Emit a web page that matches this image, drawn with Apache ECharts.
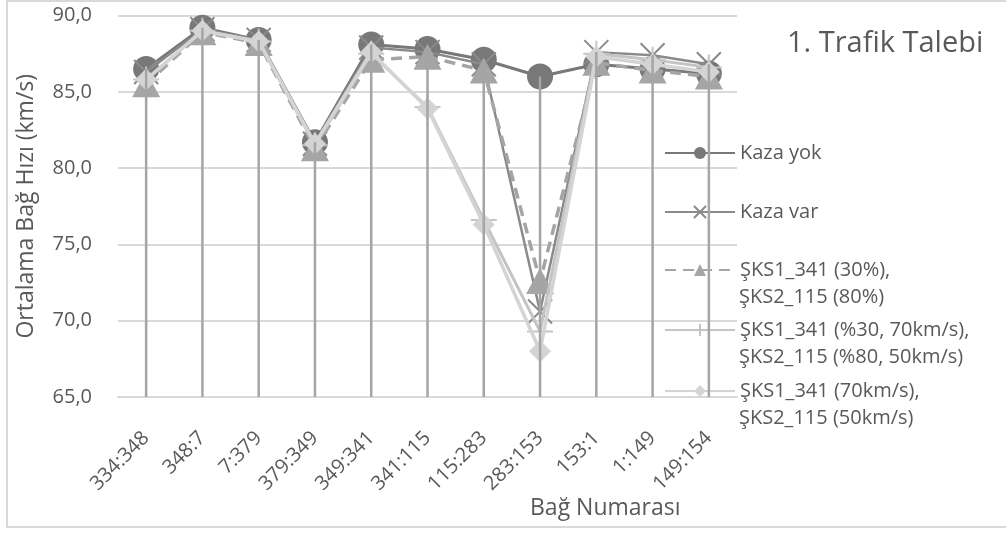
<!DOCTYPE html>
<html>
<head>
<meta charset="utf-8">
<script src="https://cdn.jsdelivr.net/npm/echarts@6/dist/echarts.min.js"></script>
<style>html,body{margin:0;padding:0;background:#fff;}#c{width:1006px;height:534px;}</style>
</head>
<body>
<div id="c"></div>
<script>
const categories = ['334:348','348:7','7:379','379:349','349:341','341:115','115:283','283:153','153:1','1:149','149:154'];
const yTicks = [65, 70, 75, 80, 85, 90];
const nameKazaYok = 'Kaza yok';
const nameKazaVar = 'Kaza var';
const nameSks1 = 'ŞKS1_341 (30%),\nŞKS2_115 (80%)';
const nameSks2 = 'ŞKS1_341 (%30, 70km/s),\nŞKS2_115 (%80, 50km/s)';
const nameSks3 = 'ŞKS1_341 (70km/s),\nŞKS2_115 (50km/s)';
const kazaYok = [86.5, 89.2, 88.4, 81.7, 88.1, 87.8, 87.1, 86.0, 86.8, 86.5, 86.2];
const kazaVar = [86.3, 89.1, 88.4, 81.6, 87.9, 87.6, 86.8, 70.6, 87.6, 87.4, 86.8];
const sks1 = [85.5, 88.9, 88.2, 81.3, 87.1, 87.3, 86.4, 72.6, 86.9, 86.4, 86.0];
const sks2 = [85.8, 89.0, 88.3, 81.5, 87.5, 84.0, 76.6, 69.3, 87.5, 87.1, 86.6];
const sks3 = [85.8, 89.0, 88.3, 81.6, 87.6, 83.9, 76.3, 68.0, 87.3, 86.8, 86.3];

const allSeries = [kazaYok, kazaVar, sks1, sks2, sks3];
const dropTops = categories.map((c, i) => Math.max(...allSeries.map(s => s[i])));

const TXT = '#595959';
const FONT = 'Open Sans';
const chart = echarts.init(document.getElementById('c'), null, {renderer: 'canvas'});

const X_PATH = 'path://M0,0L10,10M10,0L0,10';
const PLUS_PATH = 'path://M0,5L10,5M5,0L5,10';

const LEG_LEFT = 664, LEG_ICON_W = 70, LEG_LH = 27;
const legendRows = [
  [nameKazaYok, 153], [nameKazaVar, 212], [nameSks1, 270], [nameSks2, 330], [nameSks3, 391]
];

function legendFor(name, firstLineY) {
  return {
    data: [name], left: LEG_LEFT, top: firstLineY - LEG_LH / 2, orient: 'vertical', padding: 0,
    itemWidth: LEG_ICON_W, itemHeight: 15, selectedMode: false,
    formatter: n => n.split('\n')[0],
    textStyle: {color: TXT, fontSize: 20, fontFamily: FONT, lineHeight: LEG_LH}
  };
}

const secondLines = legendRows.filter(r => r[0].indexOf('\n') >= 0).map(r => ({
  type: 'text', x: LEG_LEFT + LEG_ICON_W + 5, y: r[1] + LEG_LH,
  style: {text: r[0].split('\n')[1], fill: TXT, fontSize: 20, fontFamily: FONT, verticalAlign: 'middle', align: 'left'}
}));

const option = {
  backgroundColor: '#fff',
  animation: false,
  textStyle: {fontFamily: FONT},
  grid: {left: 118, right: 269, top: 15.5, bottom: 137, containLabel: false},
  graphic: [
    {type: 'rect', shape: {x: 7, y: 1, width: 1010, height: 526}, style: {fill: 'none', stroke: '#d9d9d9', lineWidth: 2}, silent: true, z: -1},
    {type: 'text', left: 787, top: 29, style: {text: '1. Trafik Talebi', fill: TXT, fontSize: 29, fontFamily: FONT}},
    {type: 'text', left: 530, top: 497, style: {text: 'Bağ Numarası', fill: TXT, fontSize: 23, fontFamily: FONT}}
  ].concat(secondLines),
  legend: legendRows.map(r => legendFor(r[0], r[1])),
  xAxis: {
    type: 'category', data: categories, boundaryGap: true,
    axisLine: {lineStyle: {color: '#d9d9d9', width: 2}},
    axisTick: {show: false},
    axisLabel: {rotate: 45, margin: 38, color: TXT, fontSize: 20, fontFamily: FONT, interval: 0},
    splitLine: {show: false}
  },
  yAxis: {
    type: 'value', min: yTicks[0], max: yTicks[yTicks.length - 1], interval: 5,
    name: 'Ortalama Bağ Hızı (km/s)', nameLocation: 'middle', nameGap: 80,
    nameTextStyle: {color: TXT, fontSize: 23, fontFamily: FONT},
    axisLine: {show: false}, axisTick: {show: false},
    axisLabel: {margin: 26, color: TXT, fontSize: 20, fontFamily: FONT, formatter: v => v.toFixed(1).replace('.', ',')},
    splitLine: {lineStyle: {color: '#d9d9d9', width: 2}}
  },
  series: [
    {name: nameKazaYok, type: 'line', data: kazaYok, symbol: 'circle', symbolSize: 26,
     lineStyle: {color: '#787878', width: 3}, itemStyle: {color: '#787878'}, z: 3},
    {name: nameKazaVar, type: 'line', data: kazaVar, symbol: X_PATH, symbolSize: 24,
     lineStyle: {color: '#8a8a8a', width: 2.5}, itemStyle: {color: 'rgba(0,0,0,0)', borderColor: '#8a8a8a', borderWidth: 2}, z: 4},
    {name: nameSks1, type: 'line', data: sks1, symbol: 'triangle', symbolSize: [28, 26],
     lineStyle: {color: '#a5a5a5', width: 3.5, type: [11, 7]}, itemStyle: {color: '#a5a5a5'}, z: 5},
    {name: nameSks2, type: 'line', data: sks2, symbol: PLUS_PATH, symbolSize: 26,
     lineStyle: {color: '#c4c4c4', width: 3}, itemStyle: {color: 'rgba(0,0,0,0)', borderColor: '#c4c4c4', borderWidth: 2}, z: 6},
    {name: nameSks3, type: 'line', data: sks3, symbol: 'diamond', symbolSize: 22,
     lineStyle: {color: '#d4d4d4', width: 3.5}, itemStyle: {color: '#d4d4d4'}, z: 7},
    {name: 'dropLines', type: 'bar', data: dropTops, barWidth: 2.5, clip: true, silent: true,
     itemStyle: {color: '#a5a5a5'}, z: 8}
  ]
};
chart.setOption(option);
</script>
</body>
</html>
